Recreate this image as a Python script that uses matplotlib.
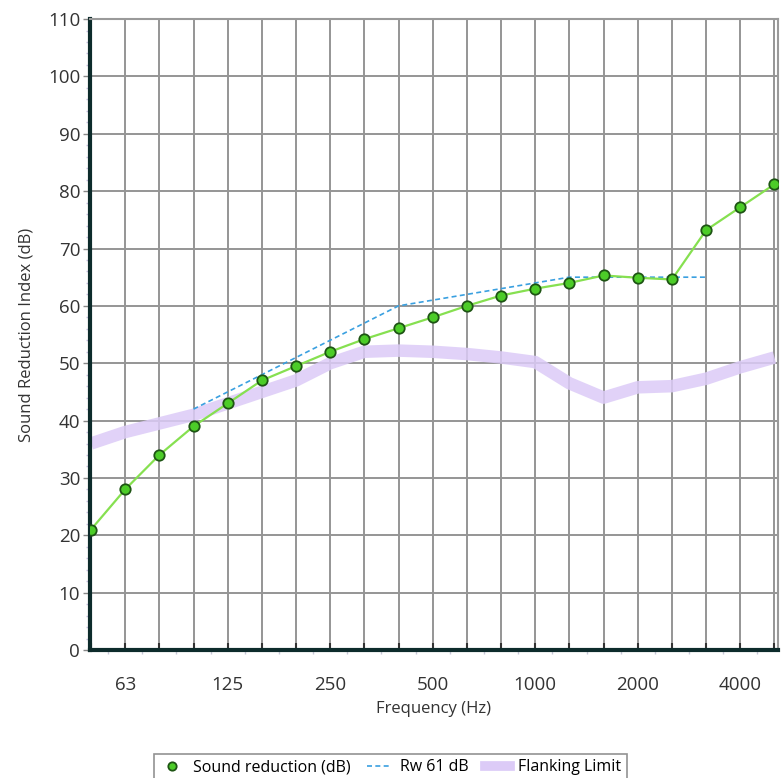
import numpy as np
import matplotlib.pyplot as plt
from matplotlib.lines import Line2D
from matplotlib.ticker import MultipleLocator

# third-octave bands 50 Hz .. 5000 Hz
bands = [50, 63, 80, 100, 125, 160, 200, 250, 315, 400, 500,
         630, 800, 1000, 1250, 1600, 2000, 2500, 3150, 4000, 5000]
sound_reduction = [21, 28, 34, 39, 43, 47, 49.5, 52, 54.2, 56.1, 58,
                   60, 61.8, 63, 64, 65.3, 64.9, 64.6, 73.2, 77.2, 81.2]
rw_bands = [100, 125, 160, 200, 250, 315, 400, 500, 630, 800,
            1000, 1250, 1600, 2000, 2500, 3150]
rw_curve = [42, 45, 48, 51, 54, 57, 60, 61, 62, 63, 64, 65, 65, 65, 65, 65]
flanking = [36, 38, 39.5, 41, 43, 45, 47, 50, 52, 52.2, 52, 51.6, 51, 50.2,
            46.5, 44, 45.8, 46, 47.3, 49.3, 51]
tick_labels = {63: "63", 125: "125", 250: "250", 500: "500",
               1000: "1000", 2000: "2000", 4000: "4000"}

plt.rcParams['font.family'] = ['Open Sans', 'DejaVu Sans']

x = np.arange(len(bands))
x_rw = [bands.index(b) for b in rw_bands]

fig = plt.figure(figsize=(7.81, 7.78), dpi=100)
ax = fig.add_axes([0.1152, 0.1645, 0.8808, 0.811])

ax.plot(x, flanking, color='#dccbf7', lw=9, solid_capstyle='butt',
        alpha=0.85, zorder=2)
ax.plot(x_rw, rw_curve, color='#3aa0e0', lw=1.2, ls=(0, (3, 2)), zorder=3)
ax.plot(x, sound_reduction, color='#86e050', lw=1.6, marker='o', ms=7.5,
        mfc='#4ccc28', mec='#1e5514', mew=1.3, zorder=4)

ax.set_xlim(-0.03, 20.1)
ax.set_ylim(0, 110)
ax.set_xticks(x)
ax.set_xticklabels([tick_labels.get(b, "") for b in bands])
ax.xaxis.set_minor_locator(MultipleLocator(0.5))
ax.yaxis.set_major_locator(MultipleLocator(10))
ax.yaxis.set_minor_locator(MultipleLocator(2))

ax.grid(True, which='major', color='#959595', lw=1.4)
ax.set_axisbelow(True)

ax.tick_params(axis='x', which='major', direction='in', length=5, width=1.5,
               color='#333333', labelsize=13.5, labelcolor='#333333', pad=19)
ax.tick_params(axis='x', which='minor', direction='out', length=3, width=1,
               color='#c8c8d8')
ax.tick_params(axis='y', which='major', direction='out', length=5, width=1,
               color='#888888', labelsize=13.5, labelcolor='#333333', pad=2)
ax.tick_params(axis='y', which='minor', direction='out', length=3, width=1,
               color='#c8c0e0')

for side in ['left', 'bottom']:
    ax.spines[side].set_color('#0d2b2b')
    ax.spines[side].set_linewidth(3)
for side in ['top', 'right']:
    ax.spines[side].set_color('#9a9a9a')
    ax.spines[side].set_linewidth(1.5)

ax.set_xlabel("Frequency (Hz)", fontsize=12, color='#333333', labelpad=5)
ax.set_ylabel("Sound Reduction Index (dB)", fontsize=12, color='#333333',
              labelpad=10)

handles = [
    Line2D([], [], ls='none', marker='o', ms=6, mfc='#4ccc28', mec='#1e5514',
           mew=1.3),
    Line2D([], [], color='#3aa0e0', lw=1.2, ls=(0, (3, 2))),
    Line2D([], [], color='#dccbf7', lw=7),
]
labels = ['Sound reduction (dB)', 'Rw 61 dB', 'Flanking Limit']
leg = fig.legend(handles, labels, loc='lower center',
                 bbox_to_anchor=(0.5, -0.014), ncol=3, fontsize=11.5,
                 frameon=True, fancybox=False, edgecolor='#777777',
                 handlelength=1.6, handletextpad=0.5, columnspacing=1.0,
                 borderpad=0.35)
leg.get_frame().set_linewidth(1.2)

fig.savefig("out.png", dpi=100)
